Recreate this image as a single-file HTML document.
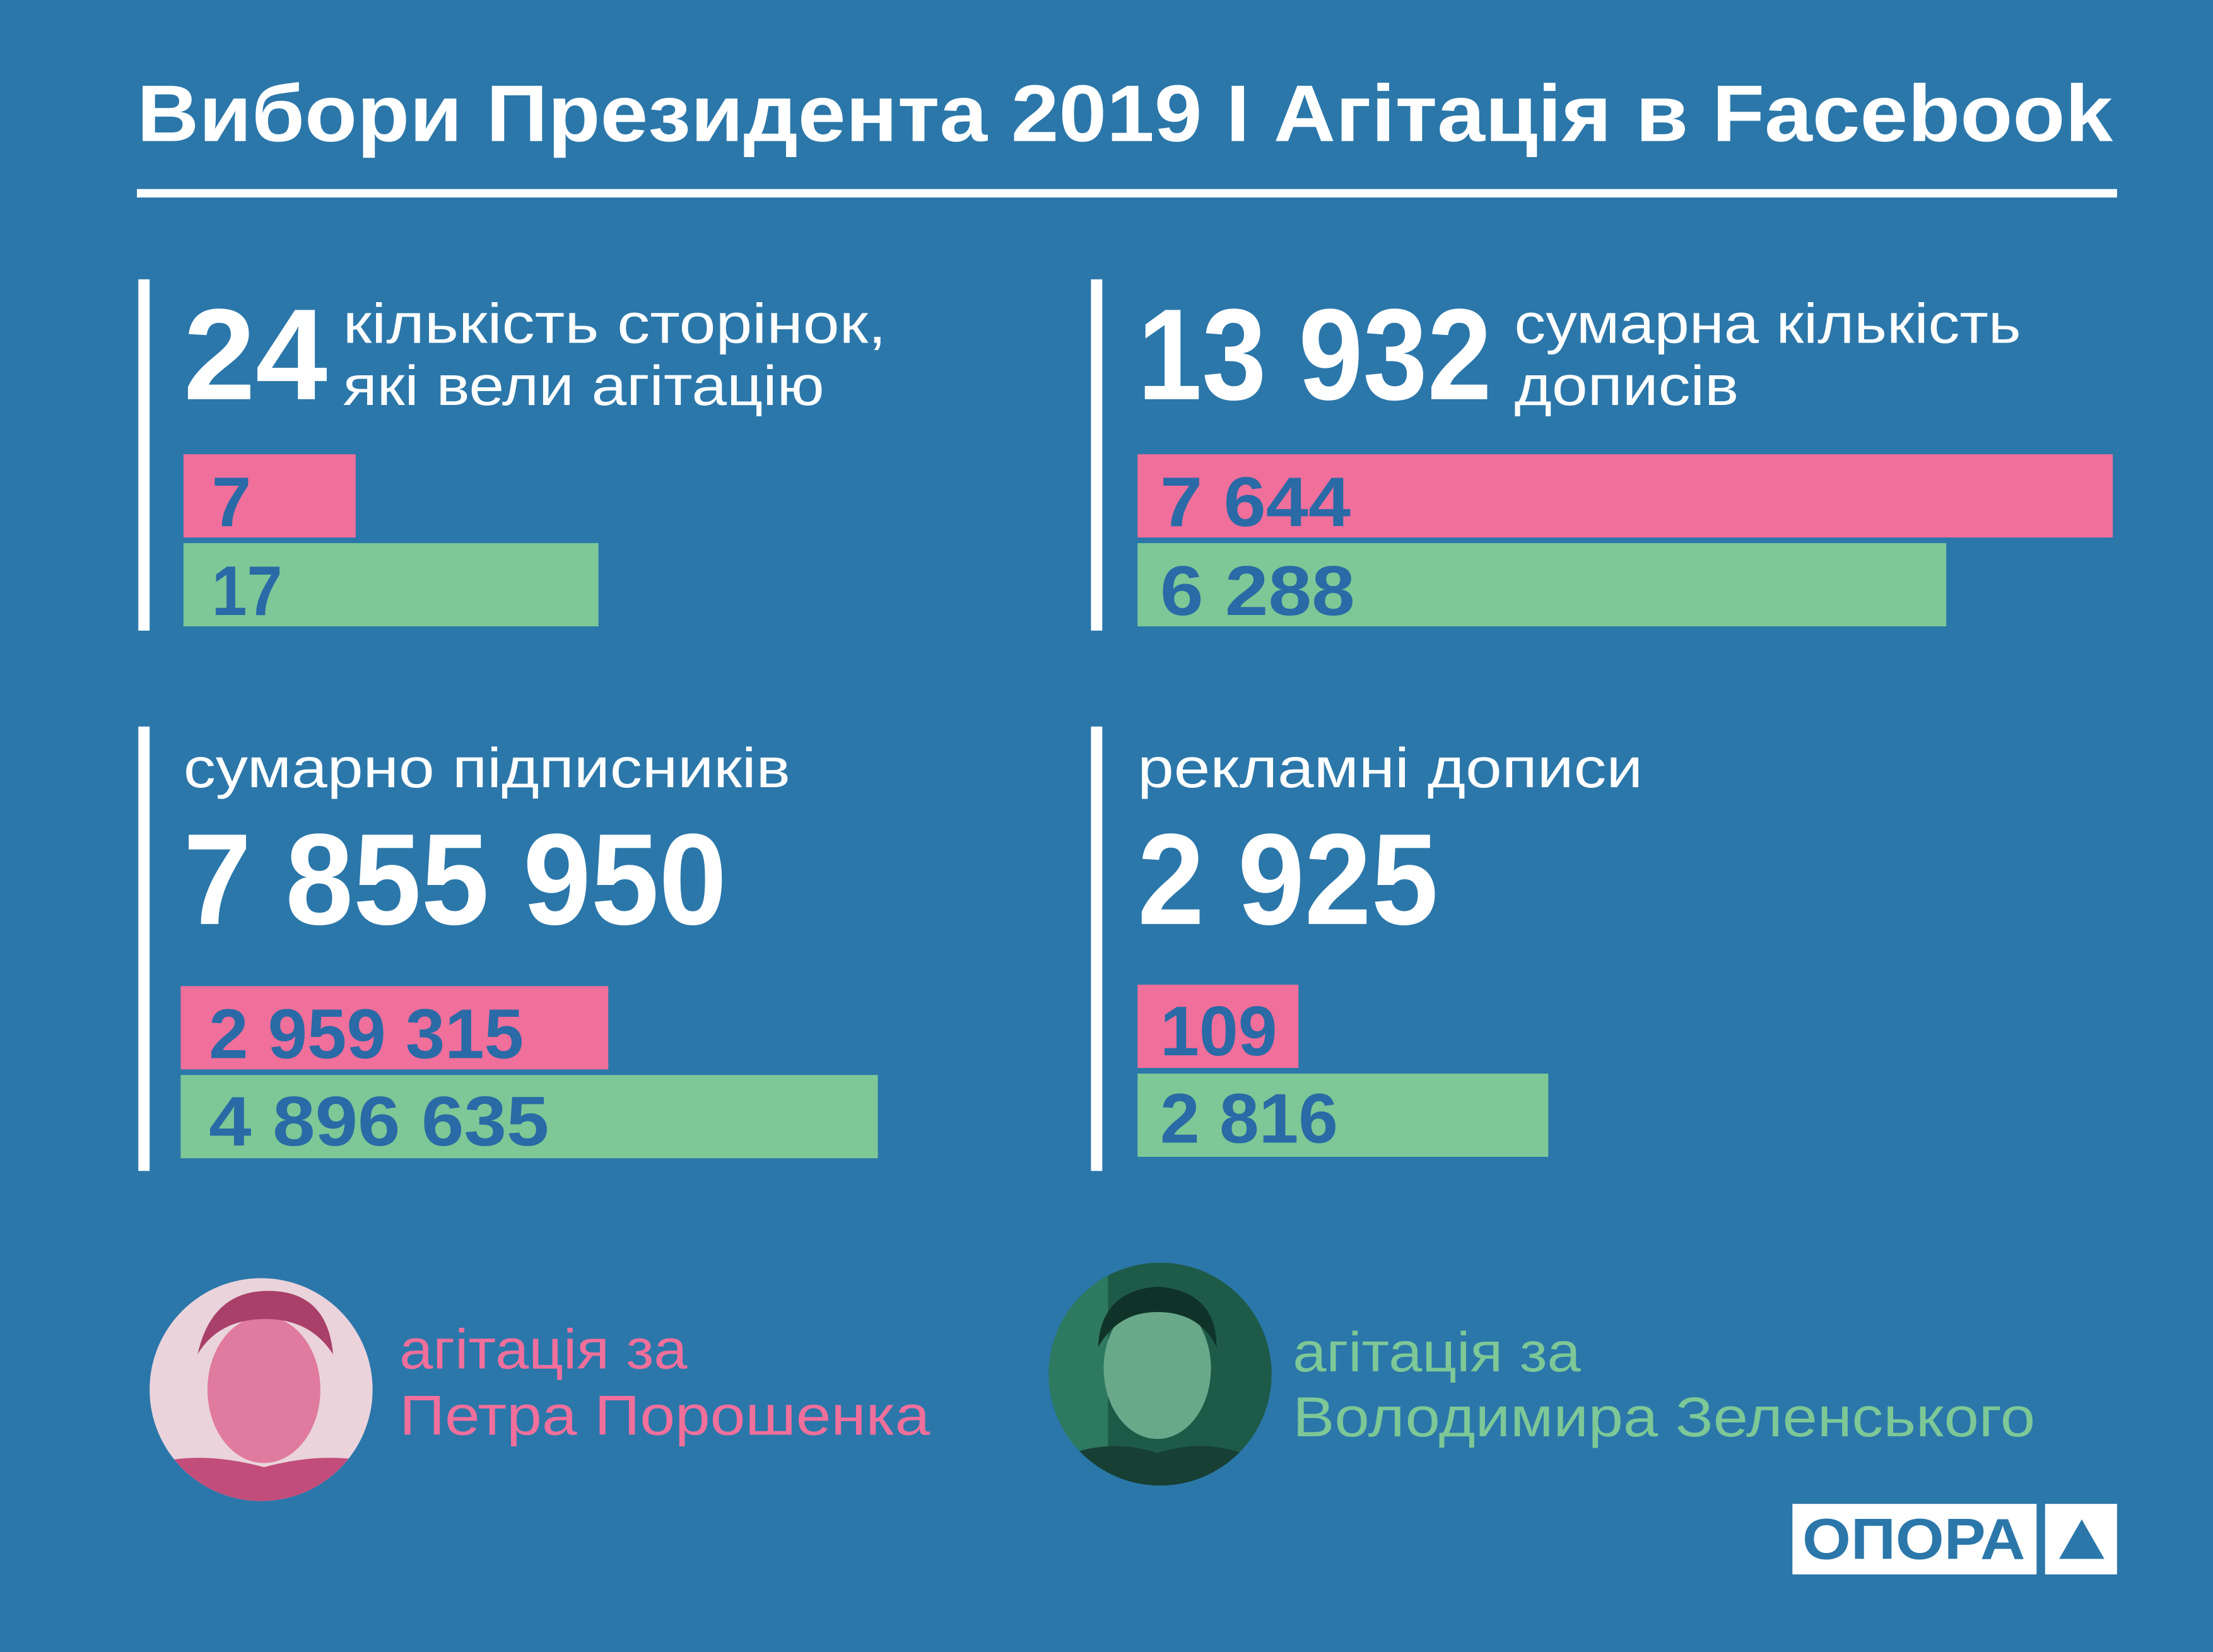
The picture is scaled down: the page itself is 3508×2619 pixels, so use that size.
<!DOCTYPE html>
<html><head><meta charset="utf-8"><style>
html,body{margin:0;padding:0;background:#2b77aa;}
svg{display:block;}
text{font-family:"Liberation Sans","DejaVu Sans",sans-serif;}
.b{font-weight:bold;}
</style></head><body>
<svg width="3508" height="2619" viewBox="0 0 1568 1171" preserveAspectRatio="none" xmlns="http://www.w3.org/2000/svg">
<defs>
<clipPath id="c1"><circle cx="185" cy="985" r="79"/></clipPath>
<clipPath id="c2"><circle cx="822" cy="974" r="79"/></clipPath>
</defs>
<rect width="1568" height="1171" fill="#2b77aa"/>
<text x="97" y="100" class="b" font-size="57" fill="#fff" textLength="1400" lengthAdjust="spacingAndGlyphs">Вибори Президента 2019  I  Агітація в Facebook</text>
<rect x="97" y="134" width="1403" height="6" fill="#fff"/>

<!-- top left -->
<rect x="98" y="198" width="8" height="249" fill="#fff"/>
<text x="130" y="283" class="b" font-size="92" fill="#fff" textLength="102" lengthAdjust="spacingAndGlyphs">24</text>
<text x="243" y="243" font-size="40" fill="#fff" textLength="385" lengthAdjust="spacingAndGlyphs">кількість сторінок,</text>
<text x="243" y="287" font-size="40" fill="#fff" textLength="341" lengthAdjust="spacingAndGlyphs">які вели агітацію</text>
<rect x="130" y="322" width="122" height="59" fill="#f06f9b"/>
<rect x="130" y="385" width="294" height="59" fill="#7dc896"/>
<text x="150" y="373" class="b" font-size="50" fill="#2a6aa6" textLength="28" lengthAdjust="spacingAndGlyphs">7</text>
<text x="150" y="436" class="b" font-size="50" fill="#2a6aa6" textLength="50" lengthAdjust="spacingAndGlyphs">17</text>

<!-- top right -->
<rect x="773" y="198" width="8" height="249" fill="#fff"/>
<text x="806" y="283" class="b" font-size="92" fill="#fff" textLength="251" lengthAdjust="spacingAndGlyphs">13 932</text>
<text x="1073" y="243" font-size="40" fill="#fff" textLength="359" lengthAdjust="spacingAndGlyphs">сумарна кількість</text>
<text x="1073" y="287" font-size="40" fill="#fff" textLength="159" lengthAdjust="spacingAndGlyphs">дописів</text>
<rect x="806" y="322" width="691" height="59" fill="#f06f9b"/>
<rect x="806" y="385" width="573" height="59" fill="#7dc896"/>
<text x="822" y="373" class="b" font-size="50" fill="#2a6aa6" textLength="135" lengthAdjust="spacingAndGlyphs">7 644</text>
<text x="822" y="436" class="b" font-size="50" fill="#2a6aa6" textLength="138" lengthAdjust="spacingAndGlyphs">6 288</text>

<!-- bottom left -->
<rect x="98" y="515" width="8" height="315" fill="#fff"/>
<text x="130" y="558" font-size="40" fill="#fff" textLength="430" lengthAdjust="spacingAndGlyphs">сумарно підписників</text>
<text x="130" y="655" class="b" font-size="92" fill="#fff" textLength="385" lengthAdjust="spacingAndGlyphs">7 855 950</text>
<rect x="128" y="699" width="303" height="59" fill="#f06f9b"/>
<rect x="128" y="762" width="494" height="59" fill="#7dc896"/>
<text x="148" y="750" class="b" font-size="50" fill="#2a6aa6" textLength="223" lengthAdjust="spacingAndGlyphs">2 959 315</text>
<text x="148" y="812" class="b" font-size="50" fill="#2a6aa6" textLength="241" lengthAdjust="spacingAndGlyphs">4 896 635</text>

<!-- bottom right -->
<rect x="773" y="515" width="8" height="315" fill="#fff"/>
<text x="806" y="558" font-size="40" fill="#fff" textLength="358" lengthAdjust="spacingAndGlyphs">рекламні  дописи</text>
<text x="806" y="655" class="b" font-size="92" fill="#fff" textLength="213" lengthAdjust="spacingAndGlyphs">2 925</text>
<rect x="806" y="698" width="114" height="59" fill="#f06f9b"/>
<rect x="806" y="761" width="291" height="59" fill="#7dc896"/>
<text x="822" y="748" class="b" font-size="50" fill="#2a6aa6" textLength="83" lengthAdjust="spacingAndGlyphs">109</text>
<text x="822" y="810" class="b" font-size="50" fill="#2a6aa6" textLength="126" lengthAdjust="spacingAndGlyphs">2 816</text>

<!-- portraits -->
<g clip-path="url(#c1)">
<rect x="100" y="900" width="170" height="170" fill="#ead3db"/>
<ellipse cx="187" cy="985" rx="40" ry="52" fill="#e07a9e"/>
<path d="M140 960 Q150 915 190 915 Q232 915 236 960 Q220 935 188 935 Q155 935 140 960Z" fill="#a8406a"/>
<path d="M100 1070 L120 1035 Q150 1030 187 1040 Q225 1030 255 1035 L270 1070Z" fill="#c24d7a"/>
</g>
<g clip-path="url(#c2)">
<rect x="740" y="890" width="170" height="170" fill="#1e5a48"/>
<rect x="740" y="890" width="45" height="170" fill="#2e7a60"/>
<ellipse cx="820" cy="970" rx="38" ry="50" fill="#6aa88a"/>
<path d="M778 955 Q780 915 820 912 Q862 915 862 955 Q850 930 820 930 Q792 930 778 955Z" fill="#0f3328"/>
<path d="M740 1060 L760 1030 Q790 1020 820 1030 Q850 1020 880 1030 L905 1060Z" fill="#173f33"/>
</g>
<text x="283" y="970" font-size="40" fill="#f06f9b" textLength="204" lengthAdjust="spacingAndGlyphs">агітація за</text>
<text x="283" y="1017" font-size="40" fill="#f06f9b" textLength="376" lengthAdjust="spacingAndGlyphs">Петра Порошенка</text>
<text x="916" y="972" font-size="40" fill="#7dc896" textLength="204" lengthAdjust="spacingAndGlyphs">агітація за</text>
<text x="916" y="1018" font-size="40" fill="#7dc896" textLength="526" lengthAdjust="spacingAndGlyphs">Володимира Зеленського</text>

<!-- logo -->
<rect x="1270" y="1066" width="173" height="50" fill="#fff"/>
<rect x="1449" y="1066" width="51" height="50" fill="#fff"/>
<text x="1277" y="1105" class="b" font-size="41" fill="#2b77aa" textLength="158" lengthAdjust="spacingAndGlyphs">ОПОРА</text>
<polygon points="1459,1105 1491,1105 1475,1077" fill="#2b77aa"/>
</svg>
</body></html>
